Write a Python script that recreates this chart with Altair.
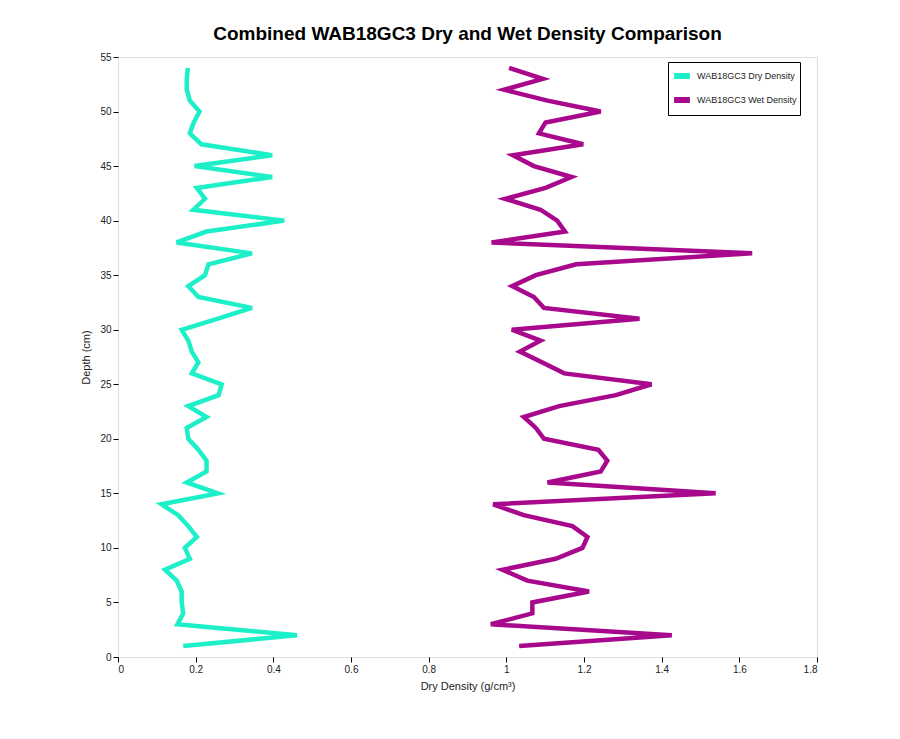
import pandas as pd
import altair as alt

depth = list(range(1, 55))

dry_density = [0.168, 0.461, 0.153, 0.168, 0.164, 0.164, 0.151, 0.121, 0.185, 0.172,
               0.203, 0.181, 0.155, 0.112, 0.257, 0.177, 0.228, 0.228, 0.207, 0.181,
               0.177, 0.228, 0.181, 0.259, 0.267, 0.190, 0.207, 0.190, 0.181, 0.164,
               0.255, 0.345, 0.207, 0.181, 0.224, 0.233, 0.345, 0.151, 0.228, 0.428,
               0.194, 0.224, 0.203, 0.397, 0.197, 0.397, 0.215, 0.185, 0.195, 0.210,
               0.185, 0.177, 0.177, 0.180]

wet_density = [1.033, 1.426, 0.960, 1.067, 1.067, 1.213, 1.054, 0.990, 1.127, 1.196,
               1.209, 1.170, 1.045, 0.966, 1.539, 1.106, 1.243, 1.260, 1.237, 1.097,
               1.076, 1.045, 1.136, 1.282, 1.374, 1.149, 1.093, 1.035, 1.088, 1.014,
               1.343, 1.097, 1.071, 1.015, 1.076, 1.180, 1.633, 0.962, 1.151, 1.131,
               1.088, 0.997, 1.101, 1.168, 1.071, 1.017, 1.198, 1.084, 1.101, 1.243,
               1.106, 0.994, 1.094, 1.007]

series = ["WAB18GC3 Dry Density", "WAB18GC3 Wet Density"]
colors = ["#1df0c8", "#a8088c"]

df = pd.concat([
    pd.DataFrame({"depth": depth, "density": dry_density, "series": series[0]}),
    pd.DataFrame({"depth": depth, "density": wet_density, "series": series[1]}),
])

font = "Liberation Sans"

chart = alt.Chart(df).mark_line(strokeWidth=4.5, strokeJoin="miter").encode(
    x=alt.X("density:Q", title="Dry Density (g/cm³)",
            scale=alt.Scale(domain=[0, 1.8], nice=False),
            axis=alt.Axis(values=[0, 0.2, 0.4, 0.6, 0.8, 1, 1.2, 1.4, 1.6, 1.8], format="~g",
                          grid=False, tickSize=5, tickColor="black", domain=False,
                          labelFontSize=10, titleFontSize=11, titleFontWeight="normal",
                          labelColor="#222", titleColor="#222", titlePadding=6)),
    y=alt.Y("depth:Q", title="Depth (cm)",
            scale=alt.Scale(domain=[0, 55], nice=False),
            axis=alt.Axis(values=list(range(0, 56, 5)), grid=False, tickSize=5,
                          tickColor="black", domain=False, labelFontSize=10,
                          titleFontSize=11, titleFontWeight="normal",
                          labelColor="#222", titleColor="#222", titlePadding=8)),
    color=alt.Color("series:N", scale=alt.Scale(domain=series, range=colors),
                    legend=alt.Legend(title=None, orient="none", legendX=550, legendY=5,
                                      symbolType="stroke", symbolStrokeWidth=6,
                                      symbolSize=250, labelFontSize=9, rowPadding=0,
                                      symbolOffset=0, labelOffset=4,
                                      strokeColor="black", padding=3, fillColor="white",
                                      labelColor="#222", labelLimit=200)),
    order=alt.Order("depth:Q"),
).properties(
    width=699,
    height=600,
    title=alt.TitleParams("Combined WAB18GC3 Dry and Wet Density Comparison",
                          fontSize=19, fontWeight="bold", offset=8, color="black"),
    padding={"left": 110, "top": 49, "right": 50, "bottom": 50},
    autosize=alt.AutoSizeParams(type="none"),
).configure_view(
    stroke="black", strokeWidth=1
).configure(font=font)

chart.save("out.html", embed_options={"renderer": "svg", "actions": False})
